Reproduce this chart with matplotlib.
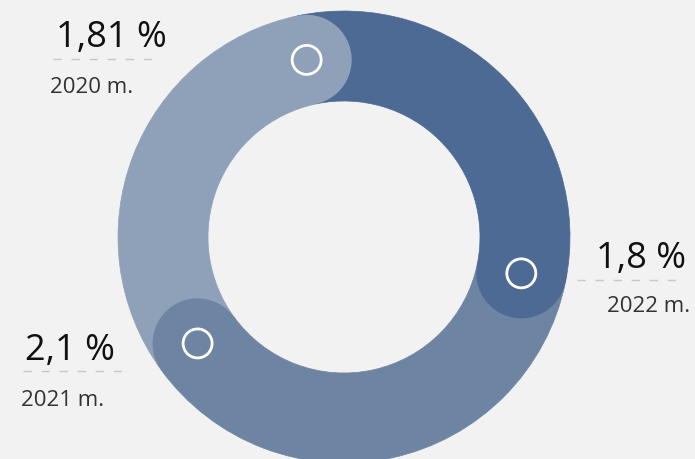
import numpy as np
import matplotlib.pyplot as plt
from matplotlib.patches import Wedge, Circle

years = ["2020 m.", "2021 m.", "2022 m."]
values = [1.81, 2.1, 1.8]
value_labels = ["1,81 %", "2,1 %", "1,8 %"]
colors = ["#8fa1b9", "#6e84a3", "#4d6a94"]

# pixel-like coordinates (y grows downward)
cx, cy = 344, 238
r_out, r_in = 226, 136
r_mid = (r_out + r_in) / 2
cap_r = (r_out - r_in) / 2
start = 258.1

# label positions: value text, dashed line, year text
label_pos = [
    dict(vx=56, vy=47, ha="left", lx=(53, 160), ly=60, yx=50, yy=93),
    dict(vx=25, vy=360, ha="left", lx=(23, 128), ly=372, yx=21, yy=406),
    dict(vx=686, vy=268, ha="right", lx=(577, 683), ly=281, yx=690, yy=312),
]

fig = plt.figure(figsize=(6.95, 4.6), dpi=100)
fig.patch.set_facecolor("#f2f2f2")
ax = fig.add_axes([0, 0, 1, 1])
ax.set_xlim(0, 695)
ax.set_ylim(460, 0)
ax.set_aspect("equal")
ax.axis("off")

total = sum(values)
cur = start
caps = []
for v, c in zip(values, colors):
    span = 360 * v / total
    ax.add_patch(Wedge((cx, cy), r_out, cur - span, cur, width=r_out - r_in,
                       facecolor=c, edgecolor=c, lw=0.5, zorder=1))
    caps.append((cur, c))
    cur -= span

# rounded ends with a small white ring
for ang, c in caps:
    px = cx + r_mid * np.cos(np.radians(ang))
    py = cy + r_mid * np.sin(np.radians(ang))
    ax.add_patch(Circle((px, py), cap_r, facecolor=c, edgecolor="none", zorder=2))
    ax.add_patch(Circle((px, py), 14.5, facecolor="none", edgecolor="white", lw=2, zorder=3))

for lab, yr, p in zip(value_labels, years, label_pos):
    ax.text(p["vx"], p["vy"], lab, fontsize=26, family="Open Sans", color="#111111",
            ha=p["ha"], va="baseline")
    ax.plot(p["lx"], [p["ly"], p["ly"]], color="#c8c8c8", lw=1, ls=(0, (6, 7)))
    ax.text(p["yx"], p["yy"], yr, fontsize=16, family="Open Sans", color="#333333",
            ha=p["ha"], va="baseline")

fig.savefig("out.png", dpi=100, facecolor=fig.get_facecolor())
